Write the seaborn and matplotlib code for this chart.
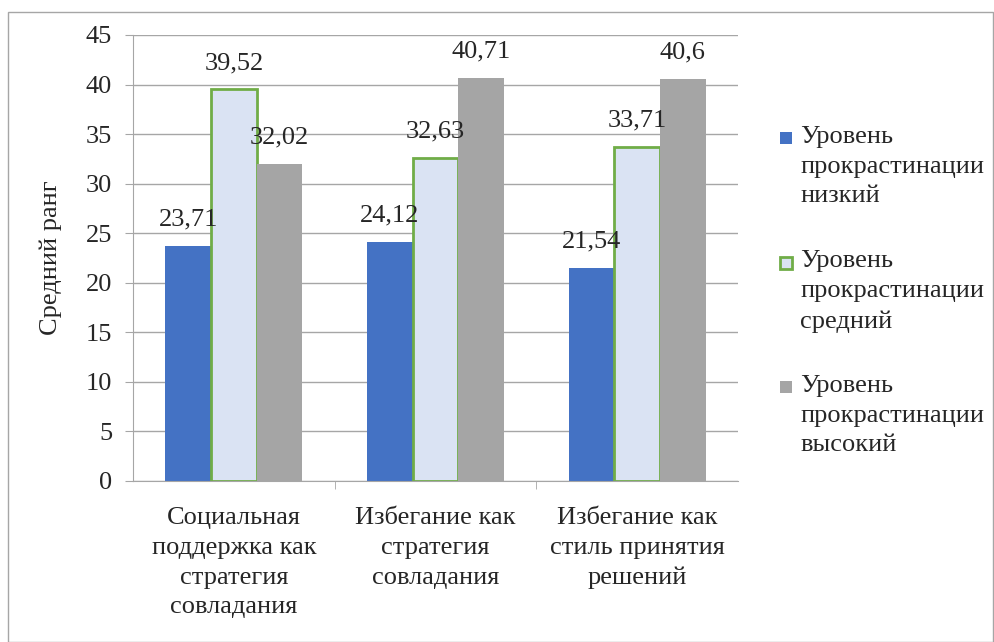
import pandas as pd
import seaborn as sns
import matplotlib.pyplot as plt
from matplotlib.patches import Rectangle

categories = ["Социальная\nподдержка как\nстратегия\nсовладания",
              "Избегание как\nстратегия\nсовладания",
              "Избегание как\nстиль принятия\nрешений"]
series = ["Уровень\nпрокрастинации\nнизкий",
          "Уровень\nпрокрастинации\nсредний",
          "Уровень\nпрокрастинации\nвысокий"]
low = [23.71, 24.12, 21.54]
mid = [39.52, 32.63, 33.71]
high = [32.02, 40.71, 40.6]

face = ["#4472C4", "#DAE3F3", "#A5A5A5"]
edge = ["#4472C4", "#70AD47", "#A5A5A5"]
FS = 19

rows = []
for s, vals in zip(series, [low, mid, high]):
    for c, v in zip(categories, vals):
        rows.append({"cat": c, "series": s, "value": v})
df = pd.DataFrame(rows)

sns.set_style("white")
plt.rcParams['font.family'] = ['Liberation Serif', 'DejaVu Serif']

fig = plt.figure(figsize=(9.95, 6.42), dpi=100)
ax = fig.add_axes([0.1337, 0.2508, 0.608, 0.6947])

sns.barplot(data=df, x="cat", y="value", hue="series", order=categories,
            hue_order=series, palette=face, width=0.68, gap=0, ax=ax,
            saturation=1, legend=False)

for i, cont in enumerate(ax.containers):
    for p in cont:
        p.set_facecolor(face[i])
        p.set_edgecolor(edge[i])
        p.set_linewidth(2 if i == 1 else 0)
    ax.bar_label(cont, labels=[f"{v:g}".replace(".", ",") for v in cont.datavalues],
                 padding=11, fontsize=FS)

ax.set_ylim(0, 45)
ax.set_yticks(range(0, 46, 5))
ax.set_xlim(-0.5, 2.5)
ax.yaxis.grid(True, color="#A6A6A6", linewidth=1)
ax.set_axisbelow(True)
for s in ["top", "right"]:
    ax.spines[s].set_visible(False)
ax.spines["left"].set_color("#A6A6A6")
ax.spines["bottom"].set_color("#A6A6A6")
ax.tick_params(axis="y", length=6, color="#A6A6A6", labelsize=FS, pad=9, left=True)
ax.set_xticks([0.5, 1.5], minor=True)
ax.tick_params(axis="x", which="major", length=0, labelsize=FS, pad=19)
ax.tick_params(axis="x", which="minor", length=6, color="#A6A6A6", bottom=True)
for t in ax.get_xticklabels():
    t.set_linespacing(1.45)
ax.set_xlabel("")
ax.set_ylabel("Средний ранг", fontsize=FS, labelpad=17)

# legend drawn by hand so the square sits beside the first line
for i, name in enumerate(series):
    top = 126 + i * 124.5
    fig.text(800 / 995, 1 - top / 642, name, fontsize=FS, va="top", ha="left",
             linespacing=1.45)
    fig.add_artist(Rectangle((780 / 995, 1 - (top + 18) / 642), 12 / 995, 12 / 642,
                             transform=fig.transFigure, facecolor=face[i],
                             edgecolor=edge[i], linewidth=2 if i == 1 else 0))

fig.add_artist(Rectangle((0.008, 0.0), 0.99, 0.981, transform=fig.transFigure,
                         fill=False, edgecolor="#A6A6A6", linewidth=1))

fig.savefig("out.png", dpi=100)
